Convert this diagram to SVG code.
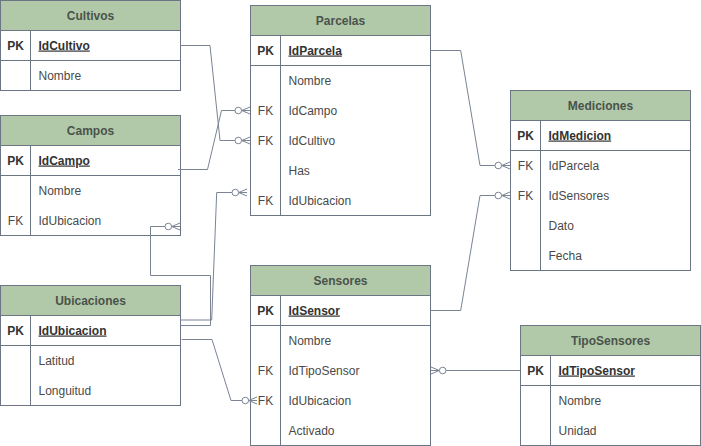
<svg xmlns="http://www.w3.org/2000/svg" width="701" height="446" viewBox="0 0 701 446">
<style>
  .box { fill: #ffffff; stroke: #6b7584; stroke-width: 1; }
  .hdr { fill: #b1c9a8; stroke: #6b7584; stroke-width: 1; }
  .ln { stroke: #6b7584; stroke-width: 1; fill: none; }
  .title { font-family: "Liberation Sans", Arial, sans-serif; font-size: 12px; font-weight: bold; fill: #4a524c; text-anchor: middle; }
  .key { font-family: "Liberation Sans", Arial, sans-serif; font-size: 12px; fill: #4a4a4a; text-anchor: middle; }
  .pk { font-weight: bold; fill: #333333; }
  .col { font-family: "Liberation Sans", Arial, sans-serif; font-size: 12px; fill: #4a4a4a; }
  .pkcol { font-weight: bold; fill: #333333; text-decoration: underline; }
  .conn { stroke: #7a8493; stroke-width: 1; fill: none; marker-end: url(#zeroMany); }
</style>
<defs>
  <marker id="zeroMany" markerUnits="userSpaceOnUse" orient="auto" markerWidth="20" markerHeight="10" viewBox="-16 -5 20 10" refX="0" refY="0" overflow="visible">
    <path d="M-8.3,0 L0,-3.5 M-8.3,0 L0,0 M-8.3,0 L0,3.5" stroke="#7a8493" stroke-width="1" fill="none"/>
    <circle cx="-11.7" cy="0" r="3.3" fill="#ffffff" stroke="#7a8493" stroke-width="1"/>
  </marker>
</defs>

<g id="Cultivos" transform="translate(0.5,0.5)">
  <rect class="box" x="0" y="0" width="180" height="90"/>
  <rect class="hdr" x="0" y="0" width="180" height="30"/>
  <line class="ln" x1="0" y1="60" x2="180" y2="60"/>
  <line class="ln" x1="30" y1="30" x2="30" y2="90"/>
  <text class="title" x="90" y="19">Cultivos</text>
  <text class="key pk" x="15" y="49">PK</text>
  <text class="col pkcol" x="38" y="49">IdCultivo</text>
  <text class="col" x="38" y="79">Nombre</text>
</g>

<g id="Campos" transform="translate(0.5,115.5)">
  <rect class="box" x="0" y="0" width="180" height="120"/>
  <rect class="hdr" x="0" y="0" width="180" height="30"/>
  <line class="ln" x1="0" y1="60" x2="180" y2="60"/>
  <line class="ln" x1="30" y1="30" x2="30" y2="120"/>
  <text class="title" x="90" y="19">Campos</text>
  <text class="key pk" x="15" y="49">PK</text>
  <text class="col pkcol" x="38" y="49">IdCampo</text>
  <text class="col" x="38" y="79">Nombre</text>
  <text class="key" x="15" y="109">FK</text>
  <text class="col" x="38" y="109">IdUbicacion</text>
</g>

<g id="Ubicaciones" transform="translate(0.5,285.5)">
  <rect class="box" x="0" y="0" width="180" height="120"/>
  <rect class="hdr" x="0" y="0" width="180" height="30"/>
  <line class="ln" x1="0" y1="60" x2="180" y2="60"/>
  <line class="ln" x1="30" y1="30" x2="30" y2="120"/>
  <text class="title" x="90" y="19">Ubicaciones</text>
  <text class="key pk" x="15" y="49">PK</text>
  <text class="col pkcol" x="38" y="49">IdUbicacion</text>
  <text class="col" x="38" y="79">Latitud</text>
  <text class="col" x="38" y="109">Longuitud</text>
</g>

<g id="Parcelas" transform="translate(250.5,5.5)">
  <rect class="box" x="0" y="0" width="180" height="210"/>
  <rect class="hdr" x="0" y="0" width="180" height="30"/>
  <line class="ln" x1="0" y1="60" x2="180" y2="60"/>
  <line class="ln" x1="30" y1="30" x2="30" y2="210"/>
  <text class="title" x="90" y="19">Parcelas</text>
  <text class="key pk" x="15" y="49">PK</text>
  <text class="col pkcol" x="38" y="49">IdParcela</text>
  <text class="col" x="38" y="79">Nombre</text>
  <text class="key" x="15" y="109">FK</text>
  <text class="col" x="38" y="109">IdCampo</text>
  <text class="key" x="15" y="139">FK</text>
  <text class="col" x="38" y="139">IdCultivo</text>
  <text class="col" x="38" y="169">Has</text>
  <text class="key" x="15" y="199">FK</text>
  <text class="col" x="38" y="199">IdUbicacion</text>
</g>

<g id="Sensores" transform="translate(250.5,265.5)">
  <rect class="box" x="0" y="0" width="180" height="180"/>
  <rect class="hdr" x="0" y="0" width="180" height="30"/>
  <line class="ln" x1="0" y1="60" x2="180" y2="60"/>
  <line class="ln" x1="30" y1="30" x2="30" y2="180"/>
  <text class="title" x="90" y="19">Sensores</text>
  <text class="key pk" x="15" y="49">PK</text>
  <text class="col pkcol" x="38" y="49">IdSensor</text>
  <text class="col" x="38" y="79">Nombre</text>
  <text class="key" x="15" y="109">FK</text>
  <text class="col" x="38" y="109">IdTipoSensor</text>
  <text class="key" x="15" y="139">FK</text>
  <text class="col" x="38" y="139">IdUbicacion</text>
  <text class="col" x="38" y="169">Activado</text>
</g>

<g id="Mediciones" transform="translate(510.5,90.5)">
  <rect class="box" x="0" y="0" width="180" height="180"/>
  <rect class="hdr" x="0" y="0" width="180" height="30"/>
  <line class="ln" x1="0" y1="60" x2="180" y2="60"/>
  <line class="ln" x1="30" y1="30" x2="30" y2="180"/>
  <text class="title" x="90" y="19">Mediciones</text>
  <text class="key pk" x="15" y="49">PK</text>
  <text class="col pkcol" x="38" y="49">IdMedicion</text>
  <text class="key" x="15" y="79">FK</text>
  <text class="col" x="38" y="79">IdParcela</text>
  <text class="key" x="15" y="109">FK</text>
  <text class="col" x="38" y="109">IdSensores</text>
  <text class="col" x="38" y="139">Dato</text>
  <text class="col" x="38" y="169">Fecha</text>
</g>

<g id="TipoSensores" transform="translate(520.5,325.5)">
  <rect class="box" x="0" y="0" width="180" height="120"/>
  <rect class="hdr" x="0" y="0" width="180" height="30"/>
  <line class="ln" x1="0" y1="60" x2="180" y2="60"/>
  <line class="ln" x1="30" y1="30" x2="30" y2="120"/>
  <text class="title" x="90" y="19">TipoSensores</text>
  <text class="key pk" x="15" y="49">PK</text>
  <text class="col pkcol" x="38" y="49">IdTipoSensor</text>
  <text class="col" x="38" y="79">Nombre</text>
  <text class="col" x="38" y="109">Unidad</text>
</g>

<g id="connectors">
  <path class="conn" d="M180,45.5 L210,45.5 L220,140.5 L250,140.5"/>
  <path class="conn" d="M178,169.5 L207.5,169.5 L221.5,110.5 L250,110.5"/>
  <path class="conn" d="M180,325.5 L210.5,325.5 L210.5,275.5 L150.5,275.5 L150.5,226.5 L180,226.5"/>
  <path class="conn" d="M180,320 L211.7,320 L216.7,192.5 L247,192.5"/>
  <path class="conn" d="M181.7,339.5 L212,339.5 L231,400.5 L257,400.5"/>
  <path class="conn" d="M430.5,50.5 L460.7,50.5 L480,165.5 L510,165.5"/>
  <path class="conn" d="M430.5,310.5 L460.7,310.5 L480,195.5 L510,195.5"/>
  <path class="conn" d="M520,370.5 L431,370.5"/>
</g>
</svg>
